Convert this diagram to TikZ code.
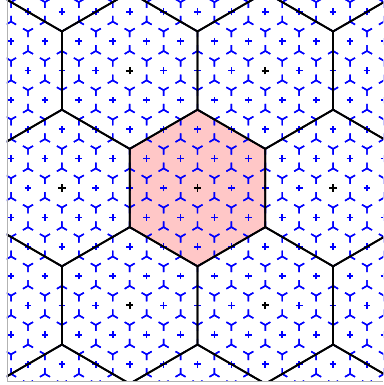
\documentclass[tikz,border=0pt]{standalone}
\begin{document}
\begin{tikzpicture}[
  celda/.style={draw=blue, line width=1.2pt,
                dash pattern=on 0.34cm off 0.2374cm, dash phase=0.17cm},
  grande/.style={draw=black, line width=1.5pt},
  cruz/.style={draw=blue, line width=1.4pt},
  centro/.style={draw=black, line width=1.6pt}]

  \useasboundingbox (-5.826,-5.811) rectangle (5.472,5.546);

  \begin{scope}
  \clip (-5.62,-5.72) rectangle (5.472,5.546);

  % Hexágono central relleno
  \fill[red!22] (30:2.3094) -- (90:2.3094) -- (150:2.3094) -- (210:2.3094)
        -- (270:2.3094) -- (330:2.3094) -- cycle;

  % Celdas pequeñas (líneas discontinuas) y sus centros
  \foreach \i in {-13,...,13}{
    \foreach \j in {-8,...,8}{
      \draw[celda, shift={(\i+0.5*\j, 0.8660*\j)}]
        (30:0.5774) -- (90:0.5774) -- (150:0.5774) -- (210:0.5774)
        -- (270:0.5774) -- (330:0.5774) -- cycle;
      \draw[cruz, shift={(\i+0.5*\j, 0.8660*\j)}]
        (-0.1,0) -- (0.1,0) (0,-0.1) -- (0,0.1);
    }}

  % Celdas grandes y sus centros
  \foreach \I in {-3,...,3}{
    \foreach \J in {-2,...,2}{
      \draw[grande, shift={(4*\I+2*\J, 3.4641*\J)}]
        (30:2.3094) -- (90:2.3094) -- (150:2.3094) -- (210:2.3094)
        -- (270:2.3094) -- (330:2.3094) -- cycle;
    }}
  \foreach \I in {-3,...,3}{
    \foreach \J in {-2,...,2}{
      \draw[centro, shift={(4*\I+2*\J, 3.4641*\J)}]
        (-0.11,0) -- (0.11,0) (0,-0.11) -- (0,0.11);
    }}
  \end{scope}

  % Marco
  \draw[gray!60, line width=0.8pt] (-5.62,5.546) -- (-5.62,-5.72) -- (5.472,-5.72);
\end{tikzpicture}
\end{document}
